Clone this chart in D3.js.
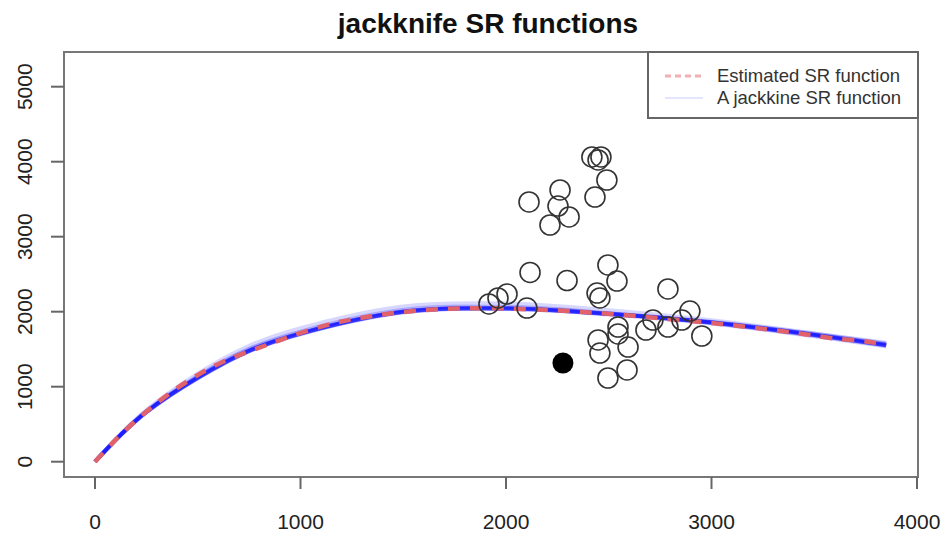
<!DOCTYPE html>
<html>
<head>
<meta charset="utf-8">
<script src="https://cdn.jsdelivr.net/npm/d3@7"></script>
<style>
  body { margin: 0; background: #fff; }
  text { font-family: "Liberation Sans", Arial, sans-serif; }
</style>
</head>
<body>
<div id="chart"></div>
<script>
// observed spawners / recruits
let spawners = [2418, 2448, 2462, 2491, 2433, 2112, 2263, 2253, 2307, 2214,
    2117, 2297, 2496, 2540, 2788, 2443, 2457, 1917, 1961, 2005,
    2102, 2895, 2856, 2953, 2788, 2715, 2681, 2545, 2545, 2594,
    2448, 2457, 2589, 2496]
let recruits = [4063, 4023, 4063, 3756, 3529, 3463, 3623, 3409, 3263, 3156,
    2523, 2416, 2623, 2409, 2303, 2249, 2183, 2103, 2183, 2236,
    2049, 2009, 1889, 1676, 1796, 1889, 1756, 1796, 1703, 1529,
    1623, 1449, 1223, 1116]

// highlighted point
let pointS = [2277]
let pointR = [1316]

// estimated SR function
let estS = [0, 70, 140, 300, 460, 620, 790, 950, 1160, 1320, 1480, 1650, 1810, 1970,
    2130, 2300, 2460, 2620, 2780, 2940, 3100, 3270, 3430, 3590, 3760, 3850]
let estR = [0, 205, 400, 780, 1090, 1330, 1510, 1670, 1845, 1930, 1990, 2030, 2045, 2045,
    2030, 2010, 1980, 1945, 1905, 1865, 1820, 1765, 1710, 1645, 1600, 1555]

// jackknife SR functions
let jkS = [0, 125, 250, 500, 750, 1000, 1500, 2000, 2500, 3000, 3500, 3850]
let jk1 = [0, 372, 690, 1175, 1545, 1780, 2070, 2110, 2020, 1885, 1710, 1575]
let jk2 = [0, 362, 672, 1140, 1500, 1730, 2020, 2060, 1980, 1860, 1690, 1550]
let jk3 = [0, 355, 660, 1115, 1475, 1705, 1995, 2040, 1975, 1865, 1710, 1585]
let jk4 = [0, 357, 664, 1120, 1480, 1710, 2000, 2040, 1962, 1842, 1672, 1535]
let jk5 = [0, 353, 656, 1110, 1470, 1700, 1990, 2038, 1970, 1860, 1700, 1568]
let jk6 = [0, 357, 664, 1120, 1480, 1710, 2000, 2045, 1970, 1855, 1690, 1555]
let jk7 = [0, 359, 667, 1125, 1485, 1715, 2005, 2050, 1972, 1852, 1685, 1550]
let jk8 = [0, 355, 660, 1115, 1475, 1705, 1995, 2042, 1968, 1858, 1695, 1560]
let jk9 = [0, 362, 674, 1140, 1505, 1735, 2025, 2065, 1980, 1850, 1680, 1545]
let jk10 = [0, 356, 663, 1118, 1478, 1708, 1998, 2044, 1971, 1856, 1692, 1557]
let jk11 = [0, 358, 665, 1122, 1482, 1712, 2002, 2047, 1969, 1853, 1688, 1552]
let jk12 = [0, 356, 662, 1119, 1479, 1709, 1999, 2043, 1970, 1857, 1694, 1559]
let jkAll = [jk1, jk2, jk3, jk4, jk5, jk6, jk7, jk8, jk9, jk10, jk11, jk12]

let xTicks = [0, 1000, 2000, 3000, 4000]
let yTicks = [0, 1000, 2000, 3000, 4000, 5000]
let legendLabels = ["Estimated SR function", "A jackkine SR function"]

let width = 948
let height = 534
let box = {left: 64, right: 918, top: 52, bottom: 477}

let chart = d3.select("#chart").append("svg")
    .attr("width", width).attr("height", height)

let xscale = d3.scaleLinear().domain([0, 4000]).range([95, 917])
let yscale = d3.scaleLinear().domain([0, 5000]).range([461.7, 86.7])

let line = d3.line()
    .x(d => xscale(d[0]))
    .y(d => yscale(d[1]))
    .curve(d3.curveCatmullRom)

// jackknife curves, faint and overlapping
jkAll.forEach(function (r) {
    chart.append("path")
        .datum(jkS.map((s, i) => [s, r[i]]))
        .attr("d", line)
        .attr("fill", "none")
        .attr("stroke", "#0000ff")
        .attr("stroke-opacity", 0.16)
        .attr("stroke-width", 4)
})

// estimated curve, dashed
chart.append("path")
    .datum(estS.map((s, i) => [s, estR[i]]))
    .attr("d", line)
    .attr("fill", "none")
    .attr("stroke", "#e2626a")
    .attr("stroke-width", 4.5)
    .attr("stroke-dasharray", "12,10")

// observed points
chart.selectAll("circle.obs")
    .data(spawners.map((s, i) => [s, recruits[i]]))
    .enter().append("circle")
    .attr("class", "obs")
    .attr("cx", d => xscale(d[0]))
    .attr("cy", d => yscale(d[1]))
    .attr("r", 10)
    .attr("fill", "none")
    .attr("stroke", "#333")
    .attr("stroke-width", 1.6)

chart.selectAll("circle.hl")
    .data(pointS.map((s, i) => [s, pointR[i]]))
    .enter().append("circle")
    .attr("class", "hl")
    .attr("cx", d => xscale(d[0]))
    .attr("cy", d => yscale(d[1]))
    .attr("r", 10.5)
    .attr("fill", "#000")

// plot box
chart.append("rect")
    .attr("x", box.left).attr("y", box.top)
    .attr("width", box.right - box.left).attr("height", box.bottom - box.top)
    .attr("fill", "none")
    .attr("stroke", "#777")
    .attr("stroke-width", 2)

// x axis
chart.selectAll("line.xt").data(xTicks).enter().append("line")
    .attr("x1", d => xscale(d)).attr("x2", d => xscale(d))
    .attr("y1", box.bottom).attr("y2", box.bottom + 12)
    .attr("stroke", "#666").attr("stroke-width", 2)

chart.selectAll("text.xl").data(xTicks).enter().append("text")
    .attr("x", d => xscale(d)).attr("y", 529)
    .attr("text-anchor", "middle")
    .style("font-size", "21px").style("fill", "#222")
    .text(d => d)

// y axis
chart.selectAll("line.yt").data(yTicks).enter().append("line")
    .attr("x1", box.left - 13).attr("x2", box.left)
    .attr("y1", d => yscale(d)).attr("y2", d => yscale(d))
    .attr("stroke", "#666").attr("stroke-width", 2)

chart.selectAll("text.yl").data(yTicks).enter().append("text")
    .attr("transform", d => "translate(32," + yscale(d) + ") rotate(-90)")
    .attr("text-anchor", "middle")
    .style("font-size", "21px").style("fill", "#222")
    .text(d => d)

// title
chart.append("text")
    .attr("x", 488).attr("y", 33)
    .attr("text-anchor", "middle")
    .style("font-size", "28px").style("font-weight", "bold").style("fill", "#111")
    .text("jackknife SR functions")

// legend
let legend = chart.append("g")
legend.append("rect")
    .attr("x", 648).attr("y", box.top)
    .attr("width", box.right - 648).attr("height", 118 - box.top)
    .attr("fill", "#fff").attr("stroke", "#666").attr("stroke-width", 2)

legend.append("line")
    .attr("x1", 665).attr("x2", 703).attr("y1", 76).attr("y2", 76)
    .attr("stroke", "#e2626a").attr("stroke-opacity", 0.5)
    .attr("stroke-width", 3).attr("stroke-dasharray", "6,4")
legend.append("line")
    .attr("x1", 665).attr("x2", 703).attr("y1", 98).attr("y2", 98)
    .attr("stroke", "#0000ff").attr("stroke-opacity", 0.1)
    .attr("stroke-width", 2)

legend.selectAll("text").data(legendLabels).enter().append("text")
    .attr("x", 717).attr("y", (d, i) => 82 + i * 22)
    .style("font-size", "18.5px").style("fill", "#333")
    .text(d => d)
</script>
</body>
</html>
